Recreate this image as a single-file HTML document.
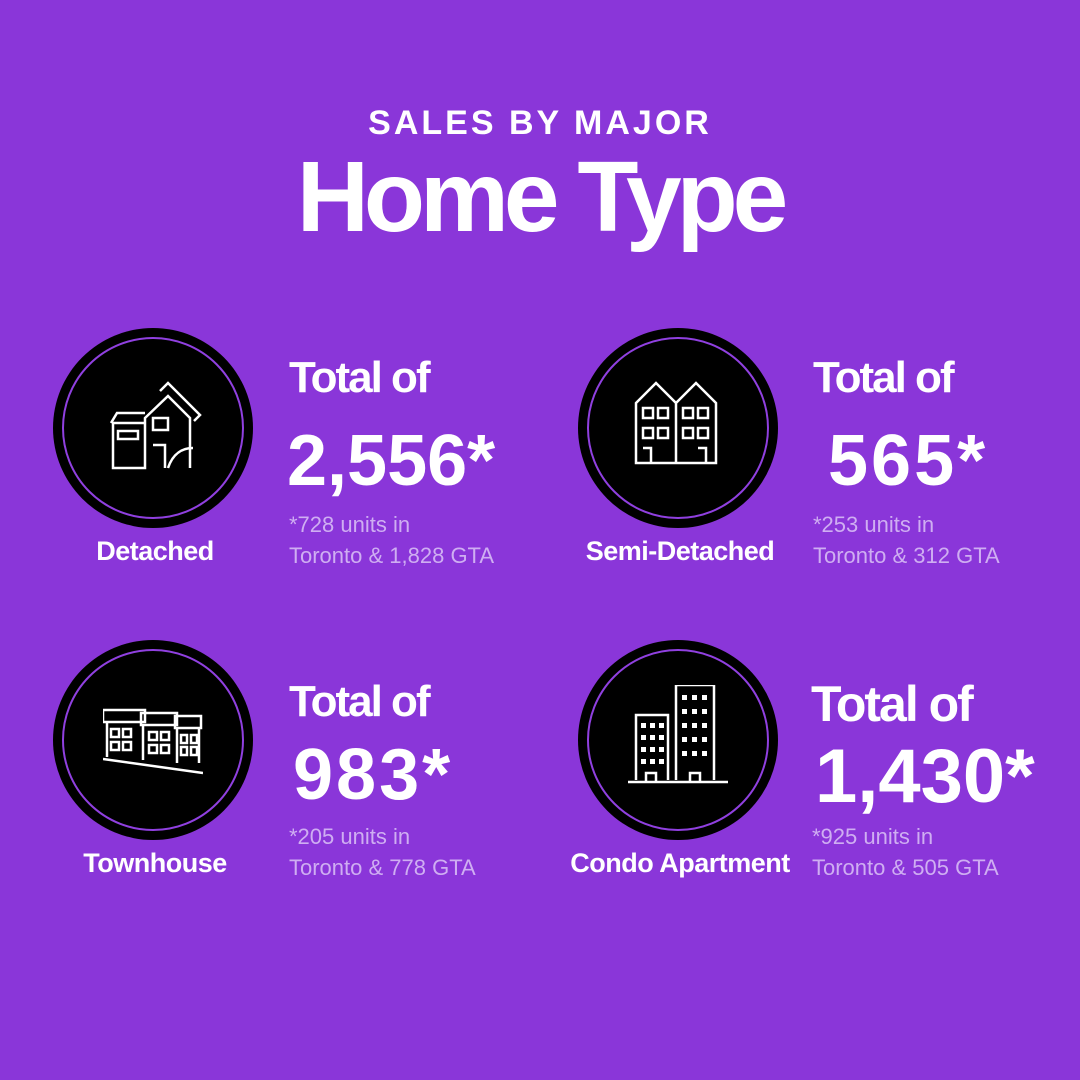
<!DOCTYPE html>
<html><head><meta charset="utf-8"><style>
body{margin:0;width:1080px;height:1080px;background:#8a36d9;font-family:"Liberation Sans",sans-serif;color:#fff;position:relative;overflow:hidden}
.a{position:absolute;white-space:nowrap}
.circ{position:absolute;width:200px;height:200px;border-radius:50%;background:#000}
.circ:after{content:"";position:absolute;left:9px;top:9px;width:178px;height:178px;border:2px solid #9040e0;border-radius:50%}
.circ svg{position:absolute;left:50px;top:45px;width:100px;height:100px}
.tot{font-size:44px;font-weight:bold;letter-spacing:-2px}
.num{font-size:72px;font-weight:bold;letter-spacing:3px}
.sub{font-size:22px;color:#cfaef2;line-height:31px}
.lab{font-size:27px;font-weight:bold;letter-spacing:-0.5px;text-align:center;width:300px}
</style></head><body>
<div class="a" style="left:0;width:1080px;text-align:center;top:104px;font-size:34px;font-weight:bold;letter-spacing:3px">SALES BY MAJOR</div>
<div class="a" style="left:0;width:1080px;text-align:center;top:140px;font-size:100px;font-weight:bold;letter-spacing:-5px">Home Type</div>

<div class="circ" style="left:53px;top:328px"><svg viewBox="-5 -10 100 100" fill="none" stroke="#fff" stroke-width="2.5"><path d="M5 40h32v45H5z M3 40l6-10h28 M10 48h20v8H10z M37 85V35l23-22 22 22v50 M45 35h15v12H45z M45 62h12v23 M60 85c5-15 15-20 25-20"/><path d="M52 8l8-8 32 32-6 6"/></svg></div>
<div class="a lab" style="left:5px;top:536px">Detached</div>
<div class="a tot" style="left:289px;top:353px">Total of</div>
<div class="a num" style="left:287px;top:420px;letter-spacing:0">2,556*</div>
<div class="a sub" style="left:289px;top:509px">*728 units in<br>Toronto &amp; 1,828 GTA</div>

<div class="circ" style="left:578px;top:328px"><svg viewBox="0 0 100 100" fill="none" stroke="#fff" stroke-width="2.5"><path d="M8 90V30l20-20 20 20 20-20 20 20v60z M48 30v60 M15 35h10v10H15zM30 35h10v10H30zM55 35h10v10H55zM70 35h10v10H70zM15 55h10v10H15zM30 55h10v10H30zM55 55h10v10H55zM70 55h10v10H70zM15 75h8v15M70 75h8v15"/></svg></div>
<div class="a lab" style="left:530px;top:536px">Semi-Detached</div>
<div class="a tot" style="left:813px;top:353px">Total of</div>
<div class="a num" style="left:828px;top:420px">565*</div>
<div class="a sub" style="left:813px;top:509px">*253 units in<br>Toronto &amp; 312 GTA</div>

<div class="circ" style="left:53px;top:640px"><svg viewBox="0 -12 100 100" fill="none" stroke="#fff" stroke-width="2.5"><path d="M0 25h42v-12h-42z M38 28h36v-12h-36z M72 31h26v-12h-26z M4 25v35M40 28v35M74 31v35M96 31v35 M8 32h8v8H8zM20 32h8v8h-8zM8 45h8v8H8zM20 45h8v8h-8zM46 35h8v8h-8zM58 35h8v8h-8zM46 48h8v8h-8zM58 48h8v8h-8zM78 38h6v8h-6zM88 38h6v8h-6zM78 50h6v8h-6zM88 50h6v8h-6z M0 62l100 14"/></svg></div>
<div class="a lab" style="left:5px;top:848px">Townhouse</div>
<div class="a tot" style="left:289px;top:677px">Total of</div>
<div class="a num" style="left:293px;top:734px">983*</div>
<div class="a sub" style="left:289px;top:821px">*205 units in<br>Toronto &amp; 778 GTA</div>

<div class="circ" style="left:578px;top:640px"><svg viewBox="0 0 100 100" fill="none" stroke="#fff" stroke-width="2.5"><path d="M8 95V30h32v65 M48 95V0h38v95 M-5 97h110 M18 88h10v9H18zM62 88h10v9H62z"/><g fill="#fff" stroke="none"><rect x="13" y="38" width="5" height="5"/><rect x="22" y="38" width="5" height="5"/><rect x="31" y="38" width="5" height="5"/><rect x="13" y="50" width="5" height="5"/><rect x="22" y="50" width="5" height="5"/><rect x="31" y="50" width="5" height="5"/><rect x="13" y="62" width="5" height="5"/><rect x="22" y="62" width="5" height="5"/><rect x="31" y="62" width="5" height="5"/><rect x="13" y="74" width="5" height="5"/><rect x="22" y="74" width="5" height="5"/><rect x="31" y="74" width="5" height="5"/><rect x="54" y="10" width="5" height="5"/><rect x="64" y="10" width="5" height="5"/><rect x="74" y="10" width="5" height="5"/><rect x="54" y="24" width="5" height="5"/><rect x="64" y="24" width="5" height="5"/><rect x="74" y="24" width="5" height="5"/><rect x="54" y="38" width="5" height="5"/><rect x="64" y="38" width="5" height="5"/><rect x="74" y="38" width="5" height="5"/><rect x="54" y="52" width="5" height="5"/><rect x="64" y="52" width="5" height="5"/><rect x="74" y="52" width="5" height="5"/><rect x="54" y="66" width="5" height="5"/><rect x="64" y="66" width="5" height="5"/><rect x="74" y="66" width="5" height="5"/></g></svg></div>
<div class="a lab" style="left:530px;top:848px">Condo Apartment</div>
<div class="a tot" style="left:811px;top:675px;font-size:50px">Total of</div>
<div class="a num" style="left:815px;top:733px;font-size:76px;letter-spacing:0">1,430*</div>
<div class="a sub" style="left:812px;top:821px">*925 units in<br>Toronto &amp; 505 GTA</div>
</body></html>
